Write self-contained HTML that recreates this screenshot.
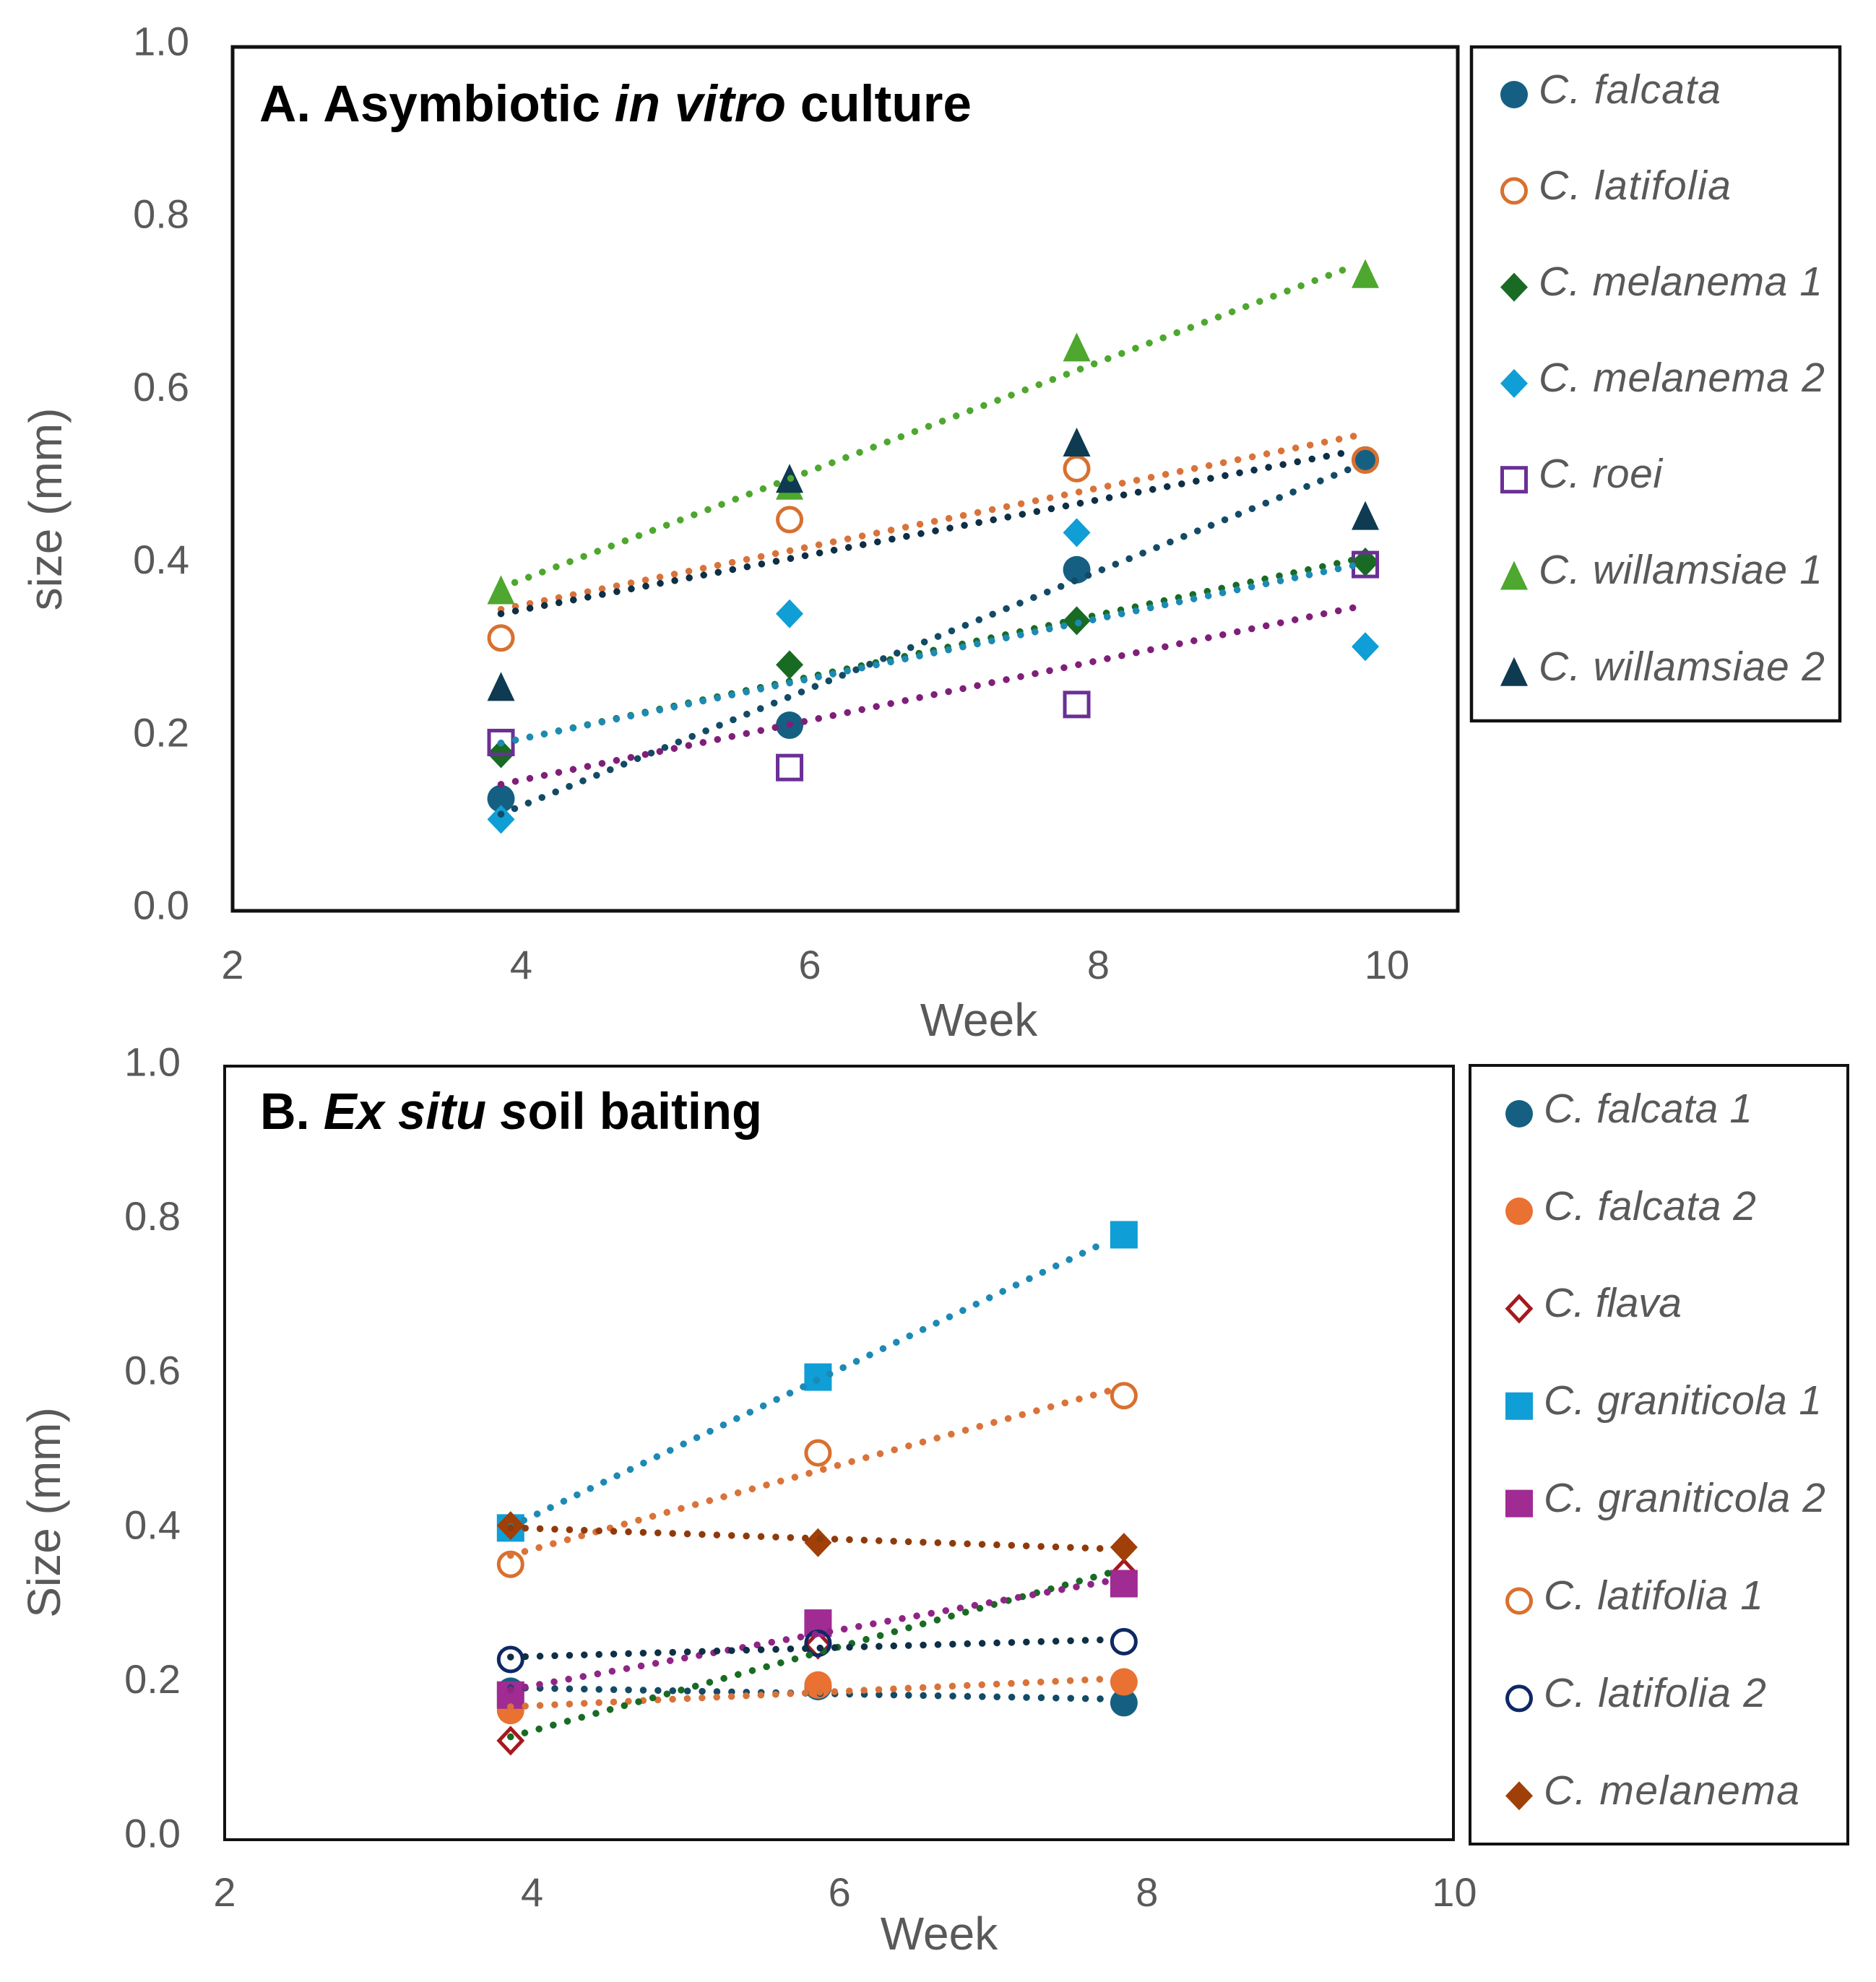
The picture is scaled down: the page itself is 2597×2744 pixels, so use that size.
<!DOCTYPE html>
<html lang="en">
<head>
<meta charset="utf-8">
<title>Protocorm size by week</title>
<style>
  html, body { margin: 0; padding: 0; background: #fff; }
  svg { display: block; }
  text { font-family: "Liberation Sans", sans-serif; fill: #595959; }
  .tick { font-size: 56px; }
  .axis-title { font-size: 64px; }
  .legend-label { font-size: 57px; font-style: italic; }
  .panel-title { font-size: 71px; font-weight: bold; fill: #000; }
  .frame { fill: none; stroke: #111; }
</style>
</head>
<body>
<svg id="figure" width="2597" height="2744" viewBox="0 0 2597 2744" xmlns="http://www.w3.org/2000/svg">
  <rect x="0" y="0" width="2597" height="2744" fill="#ffffff"/>

  <g id="panel-a">
    <rect class="frame" x="322" y="65" width="1696" height="1196" stroke-width="5"/>
    <rect class="frame" x="2037" y="65" width="510" height="933" stroke-width="4.5"/>
    <text class="panel-title" x="359" y="168" textLength="986" lengthAdjust="spacingAndGlyphs">A. Asymbiotic <tspan font-style="italic">in vitro</tspan> culture</text>
    <text class="axis-title" transform="translate(85 705) rotate(-90)" text-anchor="middle">size (mm)</text>
    <text class="axis-title" x="1355" y="1434" text-anchor="middle">Week</text>
    <g id="ticks-a"></g>
    <g id="marks-a"></g>
    <g id="trends-a"></g>
    <g id="legend-markers-a"></g>
    <g>
      <text class="legend-label" x="2130" y="143" textLength="252">C. falcata</text>
      <text class="legend-label" x="2130" y="276" textLength="266">C. latifolia</text>
      <text class="legend-label" x="2130" y="409" textLength="393">C. melanema 1</text>
      <text class="legend-label" x="2130" y="542" textLength="396">C. melanema 2</text>
      <text class="legend-label" x="2130" y="675" textLength="171">C. roei</text>
      <text class="legend-label" x="2130" y="808" textLength="393">C. willamsiae 1</text>
      <text class="legend-label" x="2130" y="942" textLength="396">C. willamsiae 2</text>
    </g>
  </g>

  <g id="panel-b">
    <rect class="frame" x="311" y="1476" width="1701" height="1071" stroke-width="4"/>
    <rect class="frame" x="2035" y="1475" width="523" height="1078" stroke-width="4"/>
    <text class="panel-title" x="360" y="1563" textLength="695" lengthAdjust="spacingAndGlyphs">B. <tspan font-style="italic">Ex situ s</tspan>oil baiting</text>
    <text class="axis-title" transform="translate(83 2094) rotate(-90)" text-anchor="middle">Size (mm)</text>
    <text class="axis-title" x="1300" y="2699" text-anchor="middle">Week</text>
    <g id="ticks-b"></g>
    <g id="marks-b"></g>
    <g id="trends-b"></g>
    <g id="legend-markers-b"></g>
    <g>
      <text class="legend-label" x="2137" y="1554" textLength="289">C. falcata 1</text>
      <text class="legend-label" x="2137" y="1689" textLength="294">C. falcata 2</text>
      <text class="legend-label" x="2137" y="1823" textLength="191">C. flava</text>
      <text class="legend-label" x="2137" y="1958" textLength="385">C. graniticola 1</text>
      <text class="legend-label" x="2137" y="2093" textLength="390">C. graniticola 2</text>
      <text class="legend-label" x="2137" y="2228" textLength="304">C. latifolia 1</text>
      <text class="legend-label" x="2137" y="2363" textLength="308">C. latifolia 2</text>
      <text class="legend-label" x="2137" y="2498" textLength="354">C. melanema</text>
    </g>
  </g>
</svg>

<script>
// ---------- Chart data: panel A ----------
const xTicksA = [2, 4, 6, 8, 10];
const yTicksA = [0.0, 0.2, 0.4, 0.6, 0.8, 1.0];
const weeksA = [3.86, 5.86, 7.85, 9.85];
const falcataA = [0.129, 0.214, 0.394, 0.521];
const latifoliaA = [0.315, 0.452, 0.511, 0.521];
const melanema1A = [0.181, 0.284, 0.335, 0.403];
const melanema2A = [0.105, 0.343, 0.437, 0.305];
const roeiA = [0.194, 0.165, 0.238, 0.400];
const willamsiae1A = [0.370, 0.491, 0.651, 0.736];
const willamsiae2A = [0.258, 0.499, 0.541, 0.456];

// ---------- Chart data: panel B ----------
const xTicksB = [2, 4, 6, 8, 10];
const yTicksB = [0.0, 0.2, 0.4, 0.6, 0.8, 1.0];
const weeksB = [3.86, 5.86, 7.85];
const falcata1B = [0.192, 0.198, 0.177];
const falcata2B = [0.167, 0.200, 0.204];
const flavaB = [0.128, 0.252, 0.345];
const graniticola1B = [0.403, 0.598, 0.782];
const graniticola2B = [0.187, 0.280, 0.331];
const latifolia1B = [0.356, 0.500, 0.574];
const latifolia2B = [0.233, 0.254, 0.256];
const melanemaB = [0.406, 0.384, 0.378];

// ---------- Series definitions ----------
const seriesA = [
  { key: 'c-falcata', values: falcataA, shape: 'circle', color: '#156082', trend: '#134A66' },
  { key: 'c-latifolia', values: latifoliaA, shape: 'circle-open', color: '#D9702F', trend: '#D9733A' },
  { key: 'c-melanema-1', values: melanema1A, shape: 'diamond', color: '#196B24', trend: '#196B24' },
  { key: 'c-melanema-2', values: melanema2A, shape: 'diamond', color: '#0F9ED5', trend: '#1C8AB4' },
  { key: 'c-roei', values: roeiA, shape: 'square-open', color: '#6B2F96', trend: '#7F1F78' },
  { key: 'c-willamsiae-1', values: willamsiae1A, shape: 'triangle', color: '#4EA72E', trend: '#4EA72E' },
  { key: 'c-willamsiae-2', values: willamsiae2A, shape: 'triangle', color: '#0E3A52', trend: '#0E2F45' }
];
const seriesB = [
  { key: 'c-falcata-1', values: falcata1B, shape: 'circle', color: '#156082', trend: '#134A66' },
  { key: 'c-falcata-2', values: falcata2B, shape: 'circle', color: '#E97132', trend: '#D9733A' },
  { key: 'c-flava', values: flavaB, shape: 'diamond-open', color: '#A5191E', trend: '#196B24' },
  { key: 'c-graniticola-1', values: graniticola1B, shape: 'square', color: '#0F9ED5', trend: '#1C8AB4' },
  { key: 'c-graniticola-2', values: graniticola2B, shape: 'square', color: '#A02B93', trend: '#8F2586' },
  { key: 'c-latifolia-1', values: latifolia1B, shape: 'circle-open', color: '#D9702F', trend: '#D9733A' },
  { key: 'c-latifolia-2', values: latifolia2B, shape: 'circle-open', color: '#0E2866', trend: '#0E2F45' },
  { key: 'c-melanema', values: melanemaB, shape: 'diamond', color: '#A03F08', trend: '#8F3A0C' }
];

const SVG_NS = 'http://www.w3.org/2000/svg';

// ---------- Axis functions ----------
function xA(week) { return 322 + (week - 2) * 199.75; }
function yA(value) { return 1260 - value * 1196; }
function xB(week) { return 311 + (week - 2) * 212.8; }
function yB(value) { return 2547 - value * 1071; }

function make(tag, attrs) {
  const el = document.createElementNS(SVG_NS, tag);
  for (const k in attrs) el.setAttribute(k, attrs[k]);
  return el;
}

function drawMarker(parent, shape, cx, cy, color, name) {
  let el;
  if (shape === 'circle') {
    el = make('circle', { cx: cx, cy: cy, r: 19, fill: color });
  } else if (shape === 'circle-open') {
    el = make('circle', { cx: cx, cy: cy, r: 16.5, fill: 'none', stroke: color, 'stroke-width': 5 });
  } else if (shape === 'square') {
    el = make('rect', { x: cx - 19, y: cy - 19, width: 38, height: 38, fill: color });
  } else if (shape === 'square-open') {
    el = make('rect', { x: cx - 16.5, y: cy - 16.5, width: 33, height: 33, fill: 'none', stroke: color, 'stroke-width': 5 });
  } else if (shape === 'diamond') {
    el = make('polygon', { points: [cx, cy - 20, cx + 19, cy, cx, cy + 20, cx - 19, cy].join(' '), fill: color });
  } else if (shape === 'diamond-open') {
    el = make('polygon', { points: [cx, cy - 17, cx + 16, cy, cx, cy + 17, cx - 16, cy].join(' '), fill: 'none', stroke: color, 'stroke-width': 5 });
  } else {
    el = make('polygon', { points: [cx, cy - 21, cx + 19, cy + 19, cx - 19, cy + 19].join(' '), fill: color });
  }
  
  
  parent.appendChild(el);
}

// Least-squares trendline, evaluated from the series values.
function fit(weeks, values) {
  const n = weeks.length;
  const mx = weeks.reduce((a, b) => a + b, 0) / n;
  const my = values.reduce((a, b) => a + b, 0) / n;
  let sxy = 0, sxx = 0;
  weeks.forEach((w, i) => { sxy += (w - mx) * (values[i] - my); sxx += (w - mx) * (w - mx); });
  const slope = sxy / sxx;
  return w => my + slope * (w - mx);
}

function drawPanel(opts) {
  const marks = document.getElementById(opts.marksId);
  const trends = document.getElementById(opts.trendsId);
  const ticks = document.getElementById(opts.ticksId);
  const legend = document.getElementById(opts.legendId);

  opts.yTicks.forEach(t => {
    const label = make('text', { class: 'tick', x: opts.yLabelX, y: opts.yLabelPos(t) + 20, 'text-anchor': 'end' });
    label.textContent = t.toFixed(1);
    
    
    ticks.appendChild(label);
  });
  opts.xTicks.forEach(t => {
    const label = make('text', { class: 'tick', x: opts.x(t), y: opts.xLabelY, 'text-anchor': 'middle' });
    label.textContent = String(t);
    
    
    ticks.appendChild(label);
  });

  opts.series.forEach((s, i) => {
    s.values.forEach((v, j) => {
      drawMarker(marks, s.shape, opts.x(opts.weeks[j]), opts.y(v), s.color, 'point-' + s.key + '-' + j);
    });

    const f = fit(opts.weeks, s.values);
    const w0 = opts.weeks[0];
    const w1 = opts.weeks[opts.weeks.length - 1] - opts.trim;
    const line = make('line', {
      x1: opts.x(w0), y1: opts.y(f(w0)),
      x2: opts.x(w1), y2: opts.y(f(w1)),
      stroke: s.trend, 'stroke-width': 9.5, 'stroke-linecap': 'round', 'stroke-dasharray': '0.01 20.4'
    });
    
    
    trends.appendChild(line);

    drawMarker(legend, s.shape, opts.legendX, opts.legendY + i * opts.legendStep, s.color, 'legend-marker-' + s.key);
  });
}

drawPanel({
  id: 'a', x: xA, y: yA, weeks: weeksA, series: seriesA, xTicks: xTicksA, yTicks: yTicksA,
  yLabelX: 262, yLabelPos: t => 1252.5 - t * 1196, xLabelY: 1355, trim: 0.075,
  marksId: 'marks-a', trendsId: 'trends-a', ticksId: 'ticks-a', legendId: 'legend-markers-a',
  legendX: 2096, legendY: 131, legendStep: 133.3
});
drawPanel({
  id: 'b', x: xB, y: yB, weeks: weeksB, series: seriesB, xTicks: xTicksB, yTicks: yTicksB,
  yLabelX: 250, yLabelPos: t => 2537.5 - t * 1068, xLabelY: 2639, trim: 0.1,
  marksId: 'marks-b', trendsId: 'trends-b', ticksId: 'ticks-b', legendId: 'legend-markers-b',
  legendX: 2103, legendY: 1542, legendStep: 134.9
});
</script>
</body>
</html>
